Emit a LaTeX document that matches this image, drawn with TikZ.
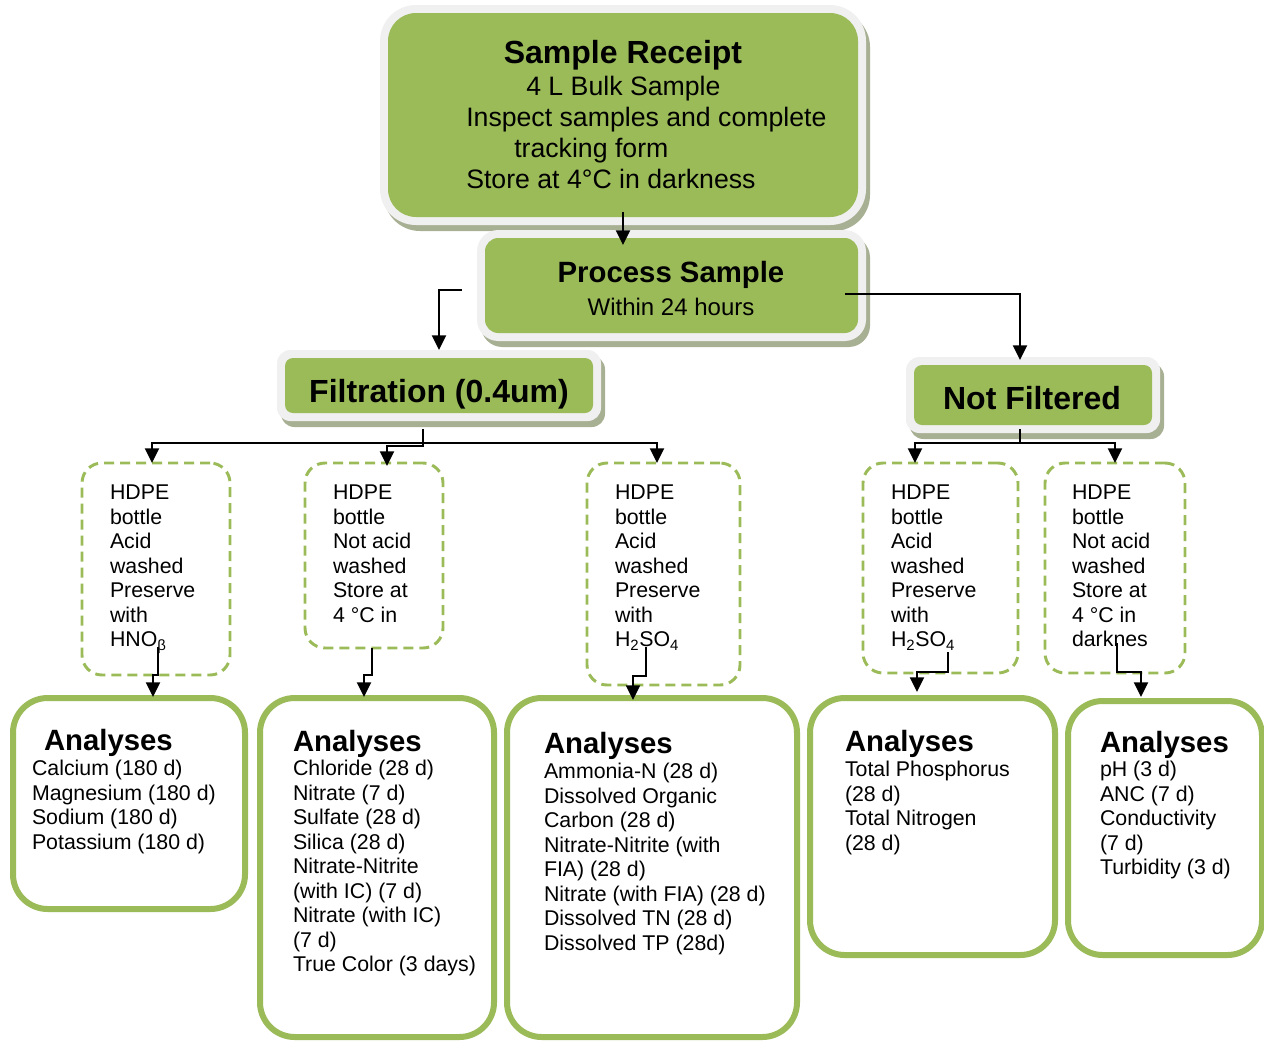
\documentclass[tikz,border=0pt]{standalone}
\usepackage{fontspec}
\setmainfont{Liberation Sans}
\usetikzlibrary{arrows.meta,shadows,calc}
\definecolor{gr}{RGB}{155,187,89}
\definecolor{framec}{RGB}{240,240,240}
\definecolor{shadowc}{RGB}{168,176,148}
\begin{document}
\begin{tikzpicture}[x=0.75pt,y=-0.75pt,
 gframe/.style={fill=framec, inner sep=0, outer sep=0, drop shadow={shadow xshift=3pt,shadow yshift=-4.5pt,fill=shadowc,opacity=1}},
 gbox/.style={fill=gr, inner sep=0, outer sep=0},
 bottle/.style={draw=gr, dash pattern=on 7.5pt off 4.5pt, line width=2.2pt, rounded corners=15pt, inner sep=0, outer sep=0},
 anbox/.style={draw=gr, line width=4.5pt, rounded corners=26pt, fill=white, inner sep=0, outer sep=0},
 arr/.style={line width=1.5pt, -{Triangle[width=10.5pt,length=11pt]}},
 ln/.style={line width=1.5pt},
 mtxt/.style={inner sep=0, outer sep=0, anchor=north west, align=left, font=\fontsize{16}{18.4}\selectfont},
 head/.style={inner sep=0, outer sep=0, anchor=base west, font=\fontsize{22}{26}\selectfont\bfseries},
]
\path[use as bounding box] (0,0) rectangle (1264,1040);

% green boxes
\node[gframe, rounded corners=27pt, minimum width=486*0.75pt, minimum height=220*0.75pt] (srf) at (623,115) {};
\node[gbox, rounded corners=21pt, minimum width=470*0.75pt, minimum height=204*0.75pt] (sr) at (623,115) {};
\node[gframe, rounded corners=16pt, minimum width=389*0.75pt, minimum height=111*0.75pt] (psf) at (671.5,285.5) {};
\node[gbox, rounded corners=10pt, minimum width=373*0.75pt, minimum height=95*0.75pt] (ps) at (671.5,285.5) {};
\node[gframe, rounded corners=10pt, minimum width=324*0.75pt, minimum height=71*0.75pt] (ftf) at (439,385.5) {};
\node[gbox, rounded corners=6pt, minimum width=308*0.75pt, minimum height=55*0.75pt] (ft) at (439,385.5) {};
\node[gframe, rounded corners=10pt, minimum width=254*0.75pt, minimum height=76*0.75pt] (nff) at (1033,395) {};
\node[gbox, rounded corners=6pt, minimum width=238*0.75pt, minimum height=60*0.75pt] (nf) at (1033,395) {};

% green box texts
\node[inner sep=0, anchor=base, font=\fontsize{24}{28}\selectfont\bfseries] (srt) at (623,63.5) {Sample Receipt};
\node[inner sep=0, anchor=north west, align=left, font=\fontsize{20}{23.25}\selectfont] (srb) at (466,76)
 {\hspace*{45pt}4 L Bulk Sample\\Inspect samples and complete\\\hspace*{36pt}tracking form\\Store at 4°C in darkness};
\node[inner sep=0, anchor=base, font=\fontsize{22}{26}\selectfont\bfseries] (pst) at (671,282.5) {Process Sample};
\node[inner sep=0, anchor=base, font=\fontsize{18}{21}\selectfont] (psb) at (671,315.5) {Within 24 hours};
\node[inner sep=0, anchor=base, font=\fontsize{24}{28}\selectfont\bfseries] (ftt) at (439,402) {Filtration (0.4um)};
\node[inner sep=0, anchor=base, font=\fontsize{24}{28}\selectfont\bfseries] (nft) at (1032,409) {Not Filtered};

% bottle boxes
\node[bottle, minimum width=148*0.75pt, minimum height=212*0.75pt] (b1) at (156,569) {};
\node[bottle, minimum width=138*0.75pt, minimum height=185*0.75pt] (b2) at (374,555.5) {};
\node[bottle, minimum width=153*0.75pt, minimum height=222*0.75pt] (b3) at (663.5,574) {};
\node[bottle, minimum width=155*0.75pt, minimum height=210*0.75pt] (b4) at (940.5,568) {};
\node[bottle, minimum width=140*0.75pt, minimum height=210*0.75pt] (b5) at (1115,568) {};
\node[mtxt] (b1t) at (110,485) {HDPE\\bottle\\Acid\\washed\\Preserve\\with\\HNO\textsubscript{β}};
\node[mtxt] (b2t) at (333,485) {HDPE\\bottle\\Not acid\\washed\\Store at\\4 °C in};
\node[mtxt] (b3t) at (615,485) {HDPE\\bottle\\Acid\\washed\\Preserve\\with\\H\textsubscript{2}SO\textsubscript{4}};
\node[mtxt] (b4t) at (891,485) {HDPE\\bottle\\Acid\\washed\\Preserve\\with\\H\textsubscript{2}SO\textsubscript{4}};
\node[mtxt] (b5t) at (1072,485) {HDPE\\bottle\\Not acid\\washed\\Store at\\4 °C in\\darknes};

% analyses boxes
\node[anbox, minimum width=232*0.75pt, minimum height=211*0.75pt] (a1) at (129,803.5) {};
\node[anbox, minimum width=234*0.75pt, minimum height=339*0.75pt] (a2) at (377,867.5) {};
\node[anbox, minimum width=290*0.75pt, minimum height=339*0.75pt] (a3) at (652,867.5) {};
\node[anbox, minimum width=245*0.75pt, minimum height=257*0.75pt] (a4) at (932.5,826.5) {};
\node[anbox, minimum width=194*0.75pt, minimum height=254*0.75pt] (a5) at (1165,828) {};

\node[head] (a1h) at (44,750) {Analyses};
\node[mtxt] (a1t) at (32,760) {Calcium (180 d)\\Magnesium (180 d)\\Sodium (180 d)\\Potassium (180 d)};
\node[head] (a2h) at (293,751) {Analyses};
\node[mtxt] (a2t) at (293,760) {Chloride (28 d)\\Nitrate (7 d)\\Sulfate (28 d)\\Silica (28 d)\\Nitrate-Nitrite\\(with IC) (7 d)\\Nitrate (with IC)\\(7 d)\\True Color (3 days)};
\node[head] (a3h) at (544,753) {Analyses};
\node[mtxt] (a3t) at (544,763) {Ammonia-N (28 d)\\Dissolved Organic\\Carbon (28 d)\\Nitrate-Nitrite (with\\FIA) (28 d)\\Nitrate (with FIA) (28 d)\\Dissolved TN (28 d)\\Dissolved TP (28d)};
\node[head] (a4h) at (845,751) {Analyses};
\node[mtxt] (a4t) at (845,761) {Total Phosphorus\\(28 d)\\Total Nitrogen\\(28 d)};
\node[head] (a5h) at (1100,752) {Analyses};
\node[mtxt] (a5t) at (1100,761) {pH (3 d)\\ANC (7 d)\\Conductivity\\(7 d)\\Turbidity (3 d)};

% connectors
\draw[arr] ($(sr.south)+(0,-5)$) -- ($(sr.south |- ps.north)+(0,7)$);
\coordinate (psL) at (462,290);
\draw[arr] (psL) -| (ftf.north);
\coordinate (psR) at (845,294);
\draw[arr] (psR) -| ($(nff.north)+(-13,3)$);

\coordinate (fj) at ($(ftf.south)+(-16,8)$);
\coordinate (fh) at (423,443);
\draw[ln] (fj) -- (fh);
\draw[arr] (fh) -| ($(b1.north)+(-4,0)$);
\draw[arr] (fh) -| ($(b3.north)+(-6.5,0)$);
\draw[arr] (fh) -- ++(0,3) -| ($(b2.north)+(13,3)$);

\coordinate (nj) at ($(nff.south)+(-13,-4)$);
\coordinate (nh) at (1020,443);
\draw[ln] (nj) -- (nh);
\draw[arr] (nh) -| ($(b4.north)+(-25.5,0)$);
\draw[arr] (nh) -| (b5.north);

\coordinate (b1o) at (158,647);
\coordinate (b2o) at (372,648);
\coordinate (b3o) at (646,647);
\coordinate (b4o) at (947.6,652);
\coordinate (b5o) at (1116.5,643);
\draw[arr] (b1o) |- ($(a1.north)+(24,-23)$) -- ($(a1.north)+(24,-1)$);
\draw[arr] (b2o) |- ($(a2.north)+(-13,-23)$) -- ($(a2.north)+(-13,-1)$);
\draw[arr] (b3o) |- ($(a3.north)+(-19,-22)$) -- ($(a3.north)+(-19,2)$);
\draw[arr] (b4o) |- ($(a4.north)+(-15.5,-26)$) -- ($(a4.north)+(-15.5,-6)$);
\draw[arr] (b5o) |- ($(a5.north)+(-24,-29)$) -- ($(a5.north)+(-24,-4)$);
\end{tikzpicture}
\end{document}
